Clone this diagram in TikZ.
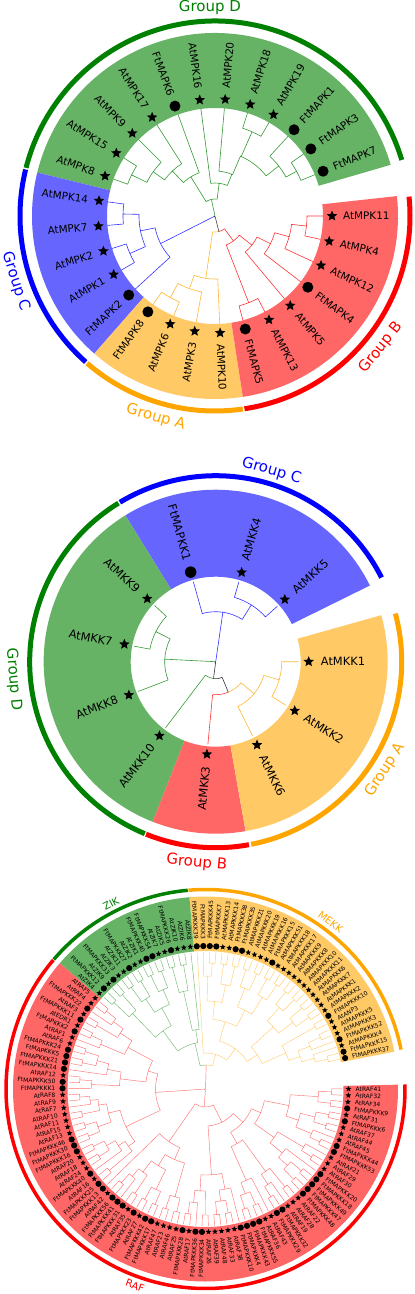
\documentclass[tikz,border=0pt]{standalone}
\usepackage{fontspec}
\usepackage{xcolor}
\setmainfont{DejaVu Sans}
\usetikzlibrary{shapes.geometric}

\definecolor{groupgreen}{HTML}{008000}
\definecolor{groupblue}{HTML}{0000FF}
\definecolor{grouporange}{HTML}{FFA500}
\definecolor{groupred}{HTML}{FF0000}

\tikzset{
  genedot/.style={circle,fill=black,inner sep=0pt},
  genestar/.style={star,star points=5,star point ratio=2.2,fill=black,inner sep=0pt},
  genename/.style={inner sep=0pt},
  branch/.style={line join=round},
  groupband/.style={line cap=butt},
  grouplabel/.style={inner sep=0pt}
}

\newcount\cladetop
\newcount\cladeid
\newcount\leafnext

\def\genekind#1#2\relax{\ifx#1F\def\genemark{genedot}\else\def\genemark{genestar}\fi}

\newcommand\cladestart[1]{%
  \def\treeid{#1}\global\cladetop=0 \global\cladeid=0 \global\leafnext=0 }

\newcommand\cladelabels[1]{%
  \foreach \gene [count=\i from 0] in {#1}{%
    \pgfmathsetmacro\ang{\leafstart+\leafstep*\i}
    \expandafter\genekind\gene\relax
    \coordinate (\treeid tip\i) at (\ang:\tipr pt);
    \node[\genemark] (\treeid mark\i) at (\ang:\markr pt) {};
    \pgfmathparse{\ang>90 && \ang<270 ? 1 : 0}
    \ifnum\pgfmathresult=1
      \node[genename,anchor=east,rotate=\ang-180] (\treeid name\i) at (\ang:\labelr pt) {\gene};
    \else
      \node[genename,anchor=west,rotate=\ang] (\treeid name\i) at (\ang:\labelr pt) {\gene};
    \fi
  }}

\newcommand\cladesave[3]{%
  \expandafter\xdef\csname cladeang\the\cladetop\endcsname{#1}%
  \expandafter\xdef\csname cladename\the\cladetop\endcsname{#2}%
  \expandafter\xdef\csname cladecol\the\cladetop\endcsname{#3}}

\newcommand\cladeleaf{%
  \global\advance\cladetop by 1
  \pgfmathsetmacro\ang{\leafstart+\leafstep*\the\leafnext}
  \cladesave{\ang}{\treeid tip\the\leafnext}{\cladecol}
  \global\advance\leafnext by 1 }

\newcommand\cladejoin[2]{%
  \edef\sa{\csname cladeang\the\cladetop\endcsname}%
  \edef\sn{\csname cladename\the\cladetop\endcsname}%
  \edef\sc{\csname cladecol\the\cladetop\endcsname}%
  \global\advance\cladetop by -1
  \edef\fa{\csname cladeang\the\cladetop\endcsname}%
  \edef\fn{\csname cladename\the\cladetop\endcsname}%
  \edef\fc{\csname cladecol\the\cladetop\endcsname}%
  \ifx\relax#2\relax\pgfmathsetmacro\pivot{(\fa+\sa)/2}\else\def\pivot{#2}\fi
  \global\advance\cladeid by 1
  \coordinate (\treeid join\the\cladeid) at (\pivot:#1 pt);
  \draw[branch,draw=\fc] (\fn) -- (\fa:#1 pt) arc[start angle=\fa,end angle=\pivot,radius=#1 pt];
  \draw[branch,draw=\sc] (\sn) -- (\sa:#1 pt) arc[start angle=\sa,end angle=\pivot,radius=#1 pt];
  \cladesave{\pivot}{\treeid join\the\cladeid}{\cladecol}}

\newcommand\cladegrow[2]{%
  \def\cladecol{#1}%
  \foreach \tok/\stemang in {#2}{%
    \if l\tok
      \cladeleaf
    \else\if p\tok
      \cladeleaf\cladeleaf\cladejoin{\cladepair}{}%
    \else
      \ifx\stemang\tok\cladejoin{\tok}{}\else\cladejoin{\tok}{\stemang}\fi
    \fi\fi
  }}

\newcommand\sectorfill[5]{%
  \fill[#1!60] (#2:#4 pt) arc[start angle=#2,end angle=#3,radius=#4 pt]
    -- (#3:#5 pt) arc[start angle=#3,end angle=#2,radius=#5 pt] -- cycle;}

\begin{document}
\begin{tikzpicture}
  \useasboundingbox (0,0) rectangle (415pt,-1294pt);

  \begin{scope}[shift={(215pt,-216pt)},
      genedot/.append style={minimum size=11pt},
      genestar/.append style={minimum size=11pt},
      genename/.append style={font=\fontsize{10.4}{12}\selectfont},
      branch/.append style={line width=.6pt,draw opacity=.8},
      grouplabel/.append style={font=\fontsize{15}{17}\selectfont}]
    \sectorfill{groupgreen}{16.25}{166.25}{108}{183}
    \sectorfill{groupblue}{166.25}{228.75}{108}{183}
    \sectorfill{grouporange}{228.75}{278.75}{108}{183}
    \sectorfill{groupred}{278.75}{366.25}{108}{183}
    \foreach \col/\from/\to in {groupgreen/16.7/165.7,groupblue/166.2/228.5,grouporange/229/278.2,groupred/278.7/365.7}
      \draw[groupband,draw=\col,line width=5pt] (\from:195pt) arc[start angle=\from,end angle=\to,radius=195pt];
    \node[grouplabel,text=groupgreen] (d1) at (91.4:209pt) {Group D};
    \node[grouplabel,text=groupblue,rotate=-72] (c1) at (198.2:210pt) {Group C};
    \node[grouplabel,text=grouporange,rotate=-16.4] (a1) at (253.6:210pt) {Group A};
    \node[grouplabel,text=groupred,rotate=51.6] (b1) at (-38.4:212pt) {Group B};
    \def\leafstart{22.5}\def\leafstep{12.5}\def\tipr{108}\def\markr{117}\def\labelr{128}
    \cladestart{a}
    \cladelabels{FtMAPK7,FtMAPK3,FtMAPK1,AtMPK19,AtMPK18,AtMPK20,AtMPK16,FtMAPK6,AtMPK17,AtMPK9,AtMPK15,AtMPK8,AtMPK14,AtMPK7,AtMPK2,AtMPK1,FtMAPK2,FtMAPK8,AtMPK6,AtMPK3,AtMPK10,FtMAPK5,AtMPK13,AtMPK5,FtMAPK4,AtMPK12,AtMPK4,AtMPK11}
    \cladegrow{groupgreen}{l,l,93,l,81,l,l,92,65/67,l,45/68,l,33,l,l,l,l,l,93,76,62,46,17}
    \cladegrow{groupblue}{l,l,92,l,l,93,76,l,61}
    \cladegrow{grouporange}{l,l,93,l,77,l,63}
    \cladegrow{groupred}{l,l,93,l,l,l,l,l,92,77,62,47,31}
    \cladegrow{black}{16,1,0.5}
  \end{scope}

  \begin{scope}[shift={(215.7pt,-661.7pt)},
      genedot/.append style={minimum size=11.5pt},
      genestar/.append style={minimum size=11pt},
      genename/.append style={font=\fontsize{11.4}{13}\selectfont},
      branch/.append style={line width=.6pt,draw opacity=.8},
      grouplabel/.append style={font=\fontsize{15}{17}\selectfont}]
    \sectorfill{groupblue}{26.3}{121.7}{85}{172}
    \sectorfill{groupgreen}{121.7}{248.5}{85}{172}
    \sectorfill{groupred}{248.5}{280}{85}{172}
    \sectorfill{grouporange}{280}{375.7}{85}{172}
    \foreach \col/\from/\to in {groupblue/26.9/121,groupgreen/121.5/247.6,groupred/248/280.3,grouporange/281/375}
      \draw[groupband,draw=\col,line width=5pt] (\from:186pt) arc[start angle=\from,end angle=\to,radius=186pt];
    \node[grouplabel,text=groupblue,rotate=-16.3] (c2) at (73.7:199pt) {Group C};
    \node[grouplabel,text=groupgreen,rotate=-85] (d2) at (185:203pt) {Group D};
    \node[grouplabel,text=groupred,rotate=-5.4] (b2) at (264.6:202pt) {Group B};
    \node[grouplabel,text=grouporange,rotate=57.4] (a2) at (-32.6:201pt) {Group A};
    \def\leafstart{42}\def\leafstep{31.8}\def\tipr{83}\def\markr{93}\def\labelr{105}
    \cladestart{b}
    \cladelabels{AtMKK5,AtMKK4,FtMAPKK1,AtMKK9,AtMKK7,AtMKK8,AtMKK10,AtMKK3,AtMKK6,AtMKK2,AtMKK1}
    \cladegrow{groupblue}{l,l,67,l,50}
    \cladegrow{groupgreen}{l,l,67,l,51,l}
    \cladegrow{groupred}{l}
    \cladegrow{grouporange}{l,l,l,66,50}
    \cladegrow{black}{33,17,1,0.5}
  \end{scope}

  \begin{scope}[shift={(205.5pt,-1089pt)},
      genedot/.append style={minimum size=6.2pt},
      genestar/.append style={minimum size=6pt},
      genename/.append style={font=\fontsize{6}{7}\selectfont},
      branch/.append style={line width=.45pt,draw opacity=.55},
      grouplabel/.append style={font=\fontsize{10}{12}\selectfont}]
    \sectorfill{grouporange}{11.2}{94.8}{138}{192.5}
    \sectorfill{groupgreen}{94.8}{139.2}{138}{192.5}
    \sectorfill{groupred}{139.2}{361.3}{138}{192.5}
    \foreach \col/\from/\to in {grouporange/11.4/94.9,groupgreen/95.1/139.5,groupred/139.7/361.3}
      \draw[groupband,draw=\col,line width=3.5pt] (\from:199.5pt) arc[start angle=\from,end angle=\to,radius=199.5pt];
    \node[grouplabel,text=grouporange,rotate=-37] (mekk) at (53.1:208.5pt) {MEKK};
    \node[grouplabel,text=groupgreen,rotate=27] (zik) at (117:208pt) {ZIK};
    \node[grouplabel,text=groupred,rotate=-19.7] (raf) at (250.3:209pt) {RAF};
    \def\leafstart{12.5}\def\leafstep{2.613}\def\tipr{137}\def\markr{143}\def\labelr{150}\def\cladepair{126}
    \cladestart{c}
    \cladelabels{FtMAPKKK37,FtMAPKKK15,AtMAPKKK4,FtMAPKKK52,AtMAPKKK3,AtMAPKKK5,AtANP3,FtMAPKKK10,AtMAPKKK2,AtMAPKKK1,AtMAPKKK7,AtMAPKKK6,AtMAPKKK11,AtMAPKKK10,AtMAPKKK8,AtMAPKKK9,AtMAPKKK17,AtMAPKKK18,AtMAPKKK51,FtMAPKKK15,AtMAPKKK16,AtMAPKKK19,AtMAPKKK20,AtMAPKKK21,FtMAPKKK35,FtMAPKKK38,AtMAPKKK14,AtMAPKKK13,FtMAPKKK7,FtMAPKKK45,FtMAPKKK3,FtMAPKKK39,
      AtZIK8,AtZIK6,AtZIK10,FtMAPKKK26,AtZIK5,AtZIK7,FtMAPKKK54,FtMAPKKK40,AtZIK1,AtZIK2,FtMAPKKK27,AtZIK11,AtZIK3,FtMAPKKK33,AtZIK9,FtMAPKKK12,AtZIK4,
      AtRAF5,AtRAF4,FtMAPKKK22,AtRAF3,FtMAPKKK11,AtEDR1,FtMAPKKK2,AtRAF1,AtRAF6,FtMAPKKK24,FtMAPKKK5,FtMAPKKK21,FtMAPKKK14,AtRAF12,FtMAPKKK50,FtMAPKKK1,AtRAF8,AtRAF9,AtRAF7,AtRAF10,AtRAF11,AtRAF15,AtRAF13,FtMAPKKK46,FtMAPKKK30,FtMAPKKK16,AtRAF20,AtRAF18,AtRAF24,FtMAPKKK40,AtRAF16,FtMAPKKK25,FtMAPKKK13,AtRAF42,FtMAPKKK56,FtMAPKKK41,FtMAPKKK31,AtRAF35,FtMAPKKK23,AtRAF27,FtMAPKKK42,FtMAPKKK17,AtRAF47,AtRAF23,AtRAF46,AtRAF25,FtMAPKKK28,AtRAF17,FtMAPKKK36,FtMAPKKK34,AtRAF26,AtRAF39,AtRAF48,AtRAF33,AtRAF38,FtMAPKKK10,FtMAPKKK4,FtMAPKKK43,FtMAPKKK55,AtRAF36,AtRAF43,FtMAPKKK29,FtMAPKKK32,AtRAF19,AtRAF28,AtRAF22,FtMAPKKK48,FtMAPKKK47,FtMAPKKK49,FtMAPKKK18,FtMAPKKK20,AtRAF30,AtRAF29,AtRAF21,FtMAPKKK53,FtMAPKKK44,AtRAF45,AtRAF44,AtRAF37,FtMAPKKK6,AtRAF31,FtMAPKKK9,AtRAF34,AtRAF32,AtRAF41}
    \cladegrow{grouporange}{p,l,113,l,p,113,100,p,88,p,p,110,p,p,110,92,62,p,p,108,p,p,108,88,p,p,106,p,l,113,88,70,50,l,36}
    \cladegrow{groupgreen}{l,p,p,100,60,p,p,108,p,p,108,92,p,p,105,72,47/103}
    \cladegrow{groupred}{24}
    \cladegrow{groupred}{p,l,114,p,102,p,l,114,88,p,p,112,l,100,p,l,114,86,60,
      p,l,116,p,108,p,p,114,100,p,p,114,l,104,p,96,88,50,
      l,p,l,114,p,104,p,p,112,90,p,p,112,77,64,
      p,l,114,p,102,p,p,113,l,102,86,
      p,p,112,l,100,p,l,114,p,102,63,
      p,p,112,l,100,p,l,114,84,p,l,115,p,p,113,98,p,p,113,85,60,50,37,18,1,0.5}
  \end{scope}
\end{tikzpicture}
\end{document}
